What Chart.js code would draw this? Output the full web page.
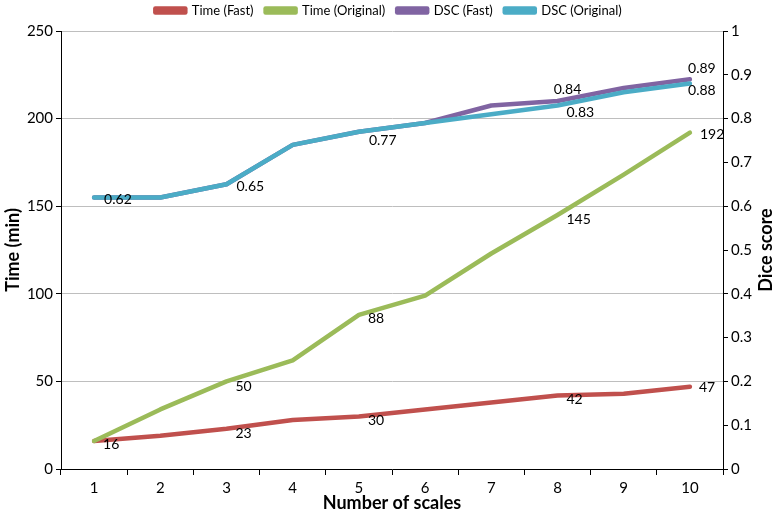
<!DOCTYPE html>
<html>
<head>
<meta charset="utf-8">
<script src="https://cdn.jsdelivr.net/npm/chart.js@4.4.1/dist/chart.umd.min.js"></script>
<style>
  html, body { margin: 0; padding: 0; background: #ffffff; }
  #wrap { width: 777px; height: 514px; position: relative; }
</style>
</head>
<body>
<div id="wrap"><canvas id="c" width="777" height="514"></canvas></div>
<script>
const categories = ['1', '2', '3', '4', '5', '6', '7', '8', '9', '10'];
const timeFast = [16, 19, 23, 28, 30, 34, 38, 42, 43, 47];
const timeOriginal = [16, 34, 50, 62, 88, 99, 123, 145, 168, 192];
const dscFast = [0.62, 0.62, 0.65, 0.74, 0.77, 0.79, 0.83, 0.84, 0.87, 0.89];
const dscOriginal = [0.62, 0.62, 0.65, 0.74, 0.77, 0.79, 0.81, 0.83, 0.86, 0.88];
const timeTicks = [0, 50, 100, 150, 200, 250];
const diceTicks = [0, 0.1, 0.2, 0.3, 0.4, 0.5, 0.6, 0.7, 0.8, 0.9, 1];
const seriesNames = ['Time (Fast)', 'Time (Original)', 'DSC (Fast)', 'DSC (Original)'];
const axisTitles = { x: 'Number of scales', left: 'Time (min)', right: 'Dice score' };

// which points carry a value label: [pointIndex, dx, dy, align]
const labelSpec = {
  0: [[0, 9, 4, 'left'], [2, 9, 5, 'left'], [4, 9, 4, 'left'], [7, 9, 4, 'left'], [9, 9, 1, 'left']],
  1: [[2, 9, 5, 'left'], [4, 9, 4, 'left'], [7, 9, 5, 'left'], [9, 10, 2, 'left']],
  2: [[7, 10, -12, 'center'], [9, 12, -11, 'center']],
  3: [[0, 10, 2, 'left'], [2, 10, 2, 'left'], [4, 10, 9, 'left'], [7, 9, 7, 'left'], [9, 12, 7, 'center']]
};

const FONT = 'Lato, "Open Sans", "DejaVu Sans", sans-serif';
Chart.defaults.font.family = FONT;
Chart.defaults.color = '#000';

const valueLabels = {
  id: 'valueLabels',
  afterDatasetsDraw(chart) {
    const ctx = chart.ctx;
    ctx.save();
    ctx.font = '14px ' + FONT;
    ctx.fillStyle = '#000';
    ctx.textBaseline = 'middle';
    Object.keys(labelSpec).forEach(di => {
      const meta = chart.getDatasetMeta(+di);
      const data = chart.data.datasets[di].data;
      labelSpec[di].forEach(([i, dx, dy, align]) => {
        const p = meta.data[i];
        ctx.textAlign = align;
        ctx.fillText(String(data[i]), p.x + dx, p.y + dy);
      });
    });
    ctx.restore();
  }
};

const rightTitle = {
  id: 'rightTitle',
  afterDraw(chart) {
    const s = chart.scales.y1;
    const ctx = chart.ctx;
    ctx.save();
    ctx.font = 'bold 18px ' + FONT;
    ctx.fillStyle = '#000';
    ctx.textAlign = 'center';
    ctx.textBaseline = 'middle';
    ctx.translate(s.right - 11, (chart.chartArea.top + chart.chartArea.bottom) / 2);
    ctx.rotate(-Math.PI / 2);
    ctx.fillText(axisTitles.right, 0, 0);
    ctx.restore();
  }
};

const legendHeight = {
  id: 'legendHeight',
  beforeUpdate(chart) {
    const lg = chart.legend;
    if (lg && !lg._patched) {
      const f = lg.fit;
      lg.fit = function () { f.call(this); this.height = 39; };
      lg._patched = true;
    }
  }
};

function mkSet(label, data, color, axis, order) {
  return {
    label, data, yAxisID: axis, order,
    borderColor: color, backgroundColor: color,
    borderWidth: 4.5, pointRadius: 0, pointHoverRadius: 0,
    tension: 0, borderJoinStyle: 'round', borderCapStyle: 'round', fill: false
  };
}

new Chart(document.getElementById('c'), {
  type: 'line',
  data: {
    labels: categories,
    datasets: [
      mkSet(seriesNames[0], timeFast, '#C0504D', 'y', 3),
      mkSet(seriesNames[1], timeOriginal, '#9BBB59', 'y', 2),
      mkSet(seriesNames[2], dscFast, '#8064A2', 'y1', 1),
      mkSet(seriesNames[3], dscOriginal, '#4BACC6', 'y1', 0)
    ]
  },
  options: {
    responsive: false,
    animation: false,
    events: [],
    layout: { padding: { top: -8, left: 0, right: 0, bottom: 0 } },
    plugins: {
      legend: {
        position: 'top',
        labels: {
          font: { size: 13 },
          color: '#000',
          boxWidth: 30,
          boxHeight: 4,
          padding: 12,
          sort: (a, b) => a.datasetIndex - b.datasetIndex
        }
      },
      tooltip: { enabled: false }
    },
    scales: {
      x: {
        type: 'category',
        offset: true,
        grid: { offset: true, drawOnChartArea: false, tickLength: 6, color: '#000' },
        border: { color: '#000', width: 1 },
        ticks: { font: { size: 15 }, color: '#000', padding: 4 },
        title: { display: true, text: axisTitles.x, font: { size: 18, weight: 'bold' }, color: '#000', padding: { top: 1, bottom: 0 } },
        afterFit(s) { s.height = 45; }
      },
      y: {
        position: 'left',
        min: 0, max: 250,
        afterBuildTicks(s) { s.ticks = timeTicks.map(v => ({ value: v })); },
        grid: { color: '#BEBEBE', tickColor: '#000', tickLength: 5, lineWidth: 1 },
        border: { color: '#000', width: 1 },
        ticks: { font: { size: 15 }, color: '#000', padding: 3 },
        title: { display: true, text: axisTitles.left, font: { size: 18, weight: 'bold' }, color: '#000', padding: { top: 2, bottom: 0 } },
        afterFit(s) { s.width = 61; }
      },
      y1: {
        position: 'right',
        min: 0, max: 1,
        afterBuildTicks(s) { s.ticks = diceTicks.map(v => ({ value: v })); },
        grid: { drawOnChartArea: false, color: '#000', tickLength: 5 },
        border: { color: '#000', width: 1 },
        ticks: { font: { size: 15 }, color: '#000', padding: 3, callback: v => String(+v.toFixed(1)) },
        afterFit(s) { s.width = 54; }
      }
    }
  },
  plugins: [legendHeight, valueLabels, rightTitle]
});
</script>
</body>
</html>
